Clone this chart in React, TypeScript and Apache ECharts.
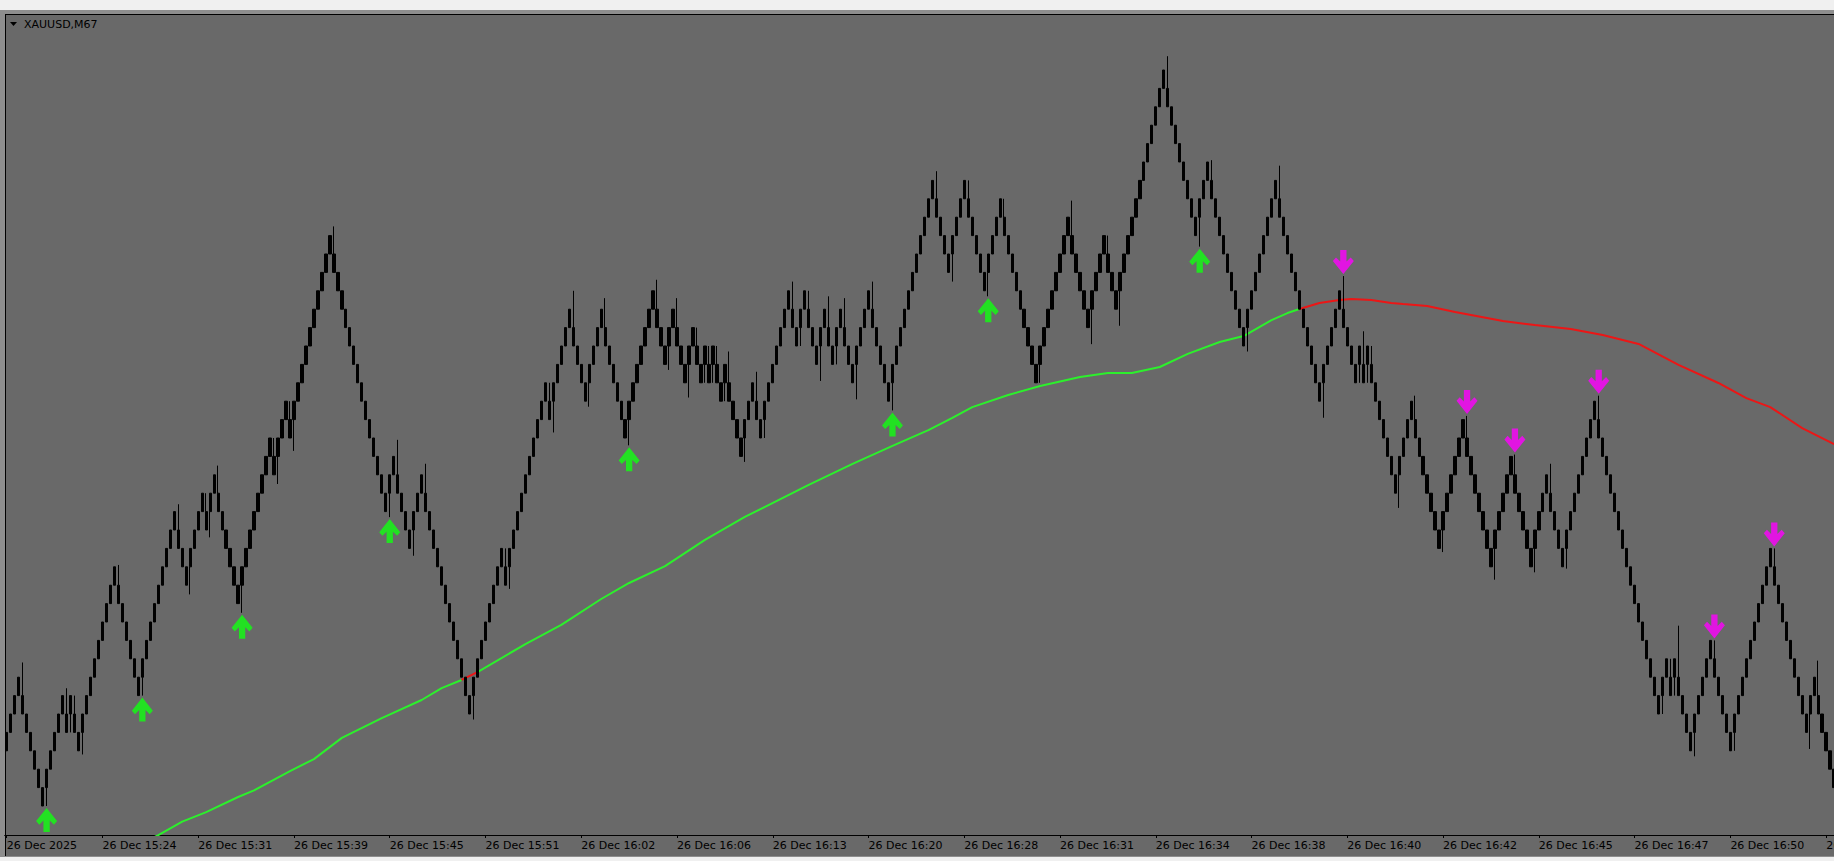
import React, { useEffect, useRef } from 'react';
import * as echarts from 'echarts';

// ---- data ----
const tickLabels = [
  '26 Dec 2025', '26 Dec 15:24', '26 Dec 15:31', '26 Dec 15:39', '26 Dec 15:45',
  '26 Dec 15:51', '26 Dec 16:02', '26 Dec 16:06', '26 Dec 16:13', '26 Dec 16:20',
  '26 Dec 16:28', '26 Dec 16:31', '26 Dec 16:34', '26 Dec 16:38', '26 Dec 16:40',
  '26 Dec 16:42', '26 Dec 16:45', '26 Dec 16:47', '26 Dec 16:50', '26 Dec 16:52',
];
const barsPerTick = 24;
const barCount = 460;

// renko swing pivots (brick levels)
const pivotLevels = [
  2, 7, 0, 6, 4, 6, 3, 13, 6, 16, 12, 17, 15, 18, 11, 20, 18, 22, 20, 31,
  16, 19, 14, 18, 5, 14, 12, 23, 21, 27, 22, 27, 20, 28, 24, 27, 23, 26, 23, 25,
  23, 25, 22, 24, 19, 23, 20, 28, 25, 28, 24, 27, 24, 27, 23, 28, 22, 34, 29, 34,
  28, 33, 23, 32, 26, 31, 27, 40, 31, 35, 25, 34, 22, 28, 23, 25, 23, 25, 17, 22,
  14, 21, 13, 19, 13, 18, 13, 22, 5, 8, 6, 8, 3, 9, 3, 14, 4, 7, 0,
];
// wick extreme of the reversal bar at each pivot (null = reaches the pivot level)
const pivotWicks = [
  null, 7.8, null, 6.4, null, null, 2.8, 13.1, null, 16.4, 11.5, null, 14.6, 18.5, 10.5, null, 17.5, null, 19.3, 31.5,
  15.7, 19.9, 13.6, 18.6, 4.7, null, 11.8, null, 20.3, 28.0, 21.7, 27.6, 19.6, 28.6, 23.7, 27.6, 22.2, null, null, null,
  null, null, null, 24.7, 18.7, 23.6, null, 28.5, null, null, 23.1, 27.7, null, 27.6, 22.1, 28.5, 21.5, 34.5, 28.5, null,
  27.7, null, null, 32.9, 25.1, null, 26.1, 40.75, 30.4, 35.1, 24.7, 34.8, 21.1, 28.8, null, 25.8, null, null, 16.2, 22.3,
  13.8, 21.2, 12.3, 19.1, 12.7, 18.6, 12.9, 22.3, null, null, null, 9.8, 2.7, null, null, null, 3.1, 7.9, null,
];
const buyArrowPivots = [2, 8, 14, 20, 32, 56, 60, 68];
const sellArrowPivots = [73, 81, 83, 87, 93, 95];

// moving average: [bar index, level]
const movingAverage = [
  [31, -2.34], [38, -1.58], [44, -0.85], [50, -0.33], [58, 0.49], [62, 0.85], [71, 1.9], [77, 2.55],
  [84, 3.7], [94, 4.78], [104, 5.76], [109, 6.41], [114, 6.85], [118, 7.28], [130, 8.8], [139, 9.84],
  [149, 11.25], [156, 12.12], [165, 13.04], [175, 14.46], [185, 15.71], [201, 17.45], [212, 18.59],
  [222, 19.57], [231, 20.43], [237, 21.09], [242, 21.68], [251, 22.34], [259, 22.83], [269, 23.32],
  [276, 23.53], [282, 23.53], [289, 23.86], [296, 24.57], [304, 25.22], [310, 25.54], [317, 26.41],
  [321, 26.79], [324, 27.01], [329, 27.34], [334, 27.5], [337, 27.55], [342, 27.5], [347, 27.34],
  [350, 27.28], [356, 27.17], [363, 26.85], [375, 26.36], [383, 26.14], [392, 25.92], [400, 25.6],
  [409, 25.11], [419, 23.97], [429, 22.99], [436, 22.17], [442, 21.68], [450, 20.54], [458, 19.67],
];
const maRedRanges = [[114, 118], [324, 460]];

const UP_ARROW = 'path://M7 23 L13 23 L13 12 L17 16 L20 12.5 L10 0 L0 12.5 L3 16 L7 12 Z';
const DOWN_ARROW = 'path://M7 0 L13 0 L13 11 L17 7 L20 10.5 L10 23 L0 10.5 L3 7 L7 11 Z';

function buildBricks() {
  const bars: number[][] = [];
  const pivotBar: number[] = [0];
  for (let k = 1; k < pivotLevels.length; k++) {
    const a = pivotLevels[k - 1];
    const b = pivotLevels[k];
    if (b > a) {
      for (let top = a + 2; top <= b; top++) bars.push([top - 1, top, top - 1, top]);
    } else {
      for (let bot = a - 2; bot >= b; bot--) bars.push([bot + 1, bot, bot, bot + 1]);
    }
    pivotBar.push(bars.length - 1);
  }
  for (let k = 1; k < pivotLevels.length - 1; k++) {
    const r = pivotBar[k] + 1;
    if (r >= bars.length) continue;
    const isPeak = pivotLevels[k] > pivotLevels[k - 1];
    const w = pivotWicks[k] ?? pivotLevels[k];
    if (isPeak) bars[r][3] = Math.max(bars[r][3], w as number);
    else bars[r][2] = Math.min(bars[r][2], w as number);
  }
  return { bars, pivotBar };
}

export default function App() {
  const ref = useRef<HTMLDivElement>(null);
  useEffect(() => {
    if (!ref.current) return;
    const chart = echarts.init(ref.current, null, { renderer: 'svg' });
    const { bars, pivotBar } = buildBricks();
    const categories = Array.from({ length: barCount }, (_, i) =>
      i % barsPerTick === 0 ? tickLabels[i / barsPerTick] ?? '' : ''
    );
    const buyData = buyArrowPivots.map((k) => {
      const r = pivotBar[k] + 1;
      return [r, bars[r][2]];
    });
    const sellData = sellArrowPivots.map((k) => {
      const r = pivotBar[k] + 1;
      return [r, bars[r][3]];
    });
    const edges = [-Infinity, ...maRedRanges.flat(), Infinity];
    const maSeries: any[] = [];
    for (let s = 0; s < edges.length - 1; s++) {
      const data = movingAverage.filter((p) => p[0] >= edges[s] && p[0] <= edges[s + 1]);
      if (data.length < 2) continue;
      maSeries.push({
        type: 'line',
        data,
        showSymbol: false,
        symbol: 'none',
        z: 2,
        lineStyle: { color: s % 2 ? '#ec1616' : '#2cf02c', width: 2 },
        silent: true,
      });
    }

    const yMax = 43.043;
    const yMin = -1.576;
    chart.setOption({
      animation: false,
      backgroundColor: 'transparent',
      grid: {
        left: 4.7,
        top: 14,
        width: barCount * 3.99,
        height: 821,
        containLabel: false,
        outerBoundsMode: 'none',
      },
      xAxis: {
        type: 'category',
        data: categories,
        boundaryGap: true,
        axisLine: { show: true, onZero: false, lineStyle: { color: '#000', width: 1 } },
        axisTick: { show: true, alignWithLabel: true, interval: barsPerTick - 1, length: 3, lineStyle: { color: '#000' } },
        axisLabel: {
          show: true,
          interval: barsPerTick - 1,
          color: '#000',
          fontFamily: 'DejaVu Sans',
          fontSize: 11,
          align: 'left',
          margin: 5,
          hideOverlap: false,
        },
        splitLine: { show: false },
      },
      yAxis: {
        type: 'value',
        min: yMin,
        max: yMax,
        show: false,
        splitLine: { show: false },
      },
      graphic: [
        { type: 'rect', z: -20, silent: true, shape: { x: 0, y: 10, width: 1834, height: 847 }, style: { fill: '#8e8e8e' } },
        { type: 'rect', z: -19, silent: true, shape: { x: 5, y: 14, width: 1829, height: 842 }, style: { fill: '#696969' } },
        { type: 'line', z: -18, silent: true, shape: { x1: 5, y1: 14.5, x2: 1834, y2: 14.5 }, style: { stroke: '#000', lineWidth: 1 } },
        { type: 'line', z: -18, silent: true, shape: { x1: 5.5, y1: 14, x2: 5.5, y2: 856 }, style: { stroke: '#000', lineWidth: 1 } },
        { type: 'polygon', z: 50, silent: true, shape: { points: [[10, 22], [17, 22], [13.5, 26]] }, style: { fill: '#000' } },
        {
          type: 'text', z: 50, silent: true, x: 24, y: 19,
          style: { text: 'XAUUSD,M67', fill: '#000', font: '11px "DejaVu Sans"', verticalAlign: 'top', align: 'left' },
        },
      ],
      series: [
        ...maSeries,
        {
          type: 'candlestick',
          data: bars,
          barWidth: 2.8,
          z: 3,
          large: false,
          silent: true,
          itemStyle: { color: '#000', color0: '#000', borderColor: '#000', borderColor0: '#000', borderWidth: 1 },
        },
        {
          type: 'scatter',
          data: buyData,
          symbol: UP_ARROW,
          symbolSize: [21, 24],
          symbolOffset: [0, 14],
          z: 4,
          silent: true,
          itemStyle: { color: '#10ff10' },
        },
        {
          type: 'scatter',
          data: sellData,
          symbol: DOWN_ARROW,
          symbolSize: [21, 24],
          symbolOffset: [0, -14],
          z: 4,
          silent: true,
          itemStyle: { color: '#ff00ff' },
        },
      ],
    });
    return () => chart.dispose();
  }, []);
  return (
    <div
      ref={ref}
      style={{ position: 'absolute', left: 0, top: 0, width: 1834, height: 861, background: '#f0f0f0' }}
    />
  );
}
